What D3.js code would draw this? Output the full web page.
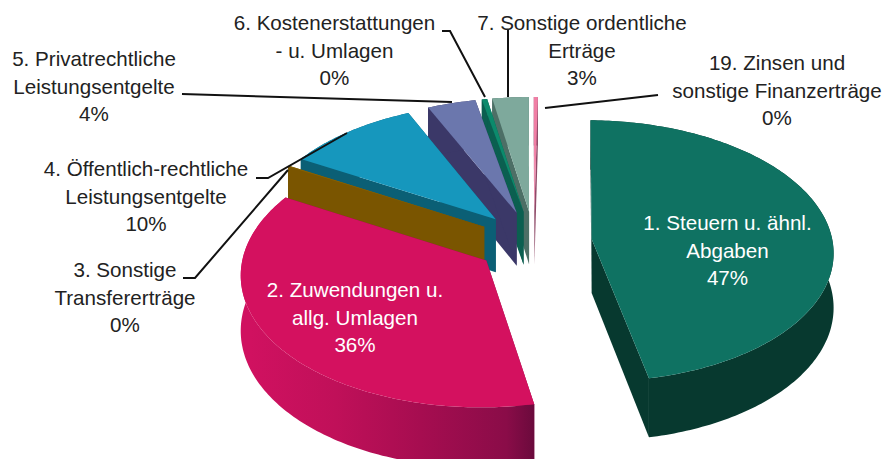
<!DOCTYPE html>
<html><head><meta charset="utf-8">
<script src="https://cdnjs.cloudflare.com/ajax/libs/d3/7.8.5/d3.min.js"></script>
<style>html,body{margin:0;padding:0;background:#fff}svg{display:block}text{font-family:"Liberation Sans",Arial,sans-serif}</style>
</head><body><div id="c"></div>
<script>
const categories=[
 ["1. Steuern u. ähnl.","Abgaben"],
 ["2. Zuwendungen u.","allg. Umlagen"],
 ["3. Sonstige","Transfererträge"],
 ["4. Öffentlich-rechtliche","Leistungsentgelte"],
 ["5. Privatrechtliche","Leistungsentgelte"],
 ["6. Kostenerstattungen","- u. Umlagen"],
 ["7. Sonstige ordentliche","Erträge"],
 ["19. Zinsen und","sonstige Finanzerträge"]];
const values=[46.6,36.4,0.1,9.9,3.6,0.4,2.7,0.3];
const percentLabels=["47%","36%","0%","10%","4%","0%","3%","0%"];
const topColors=["#0f7262","#d4115f","#8a6200","#1697bd","#6b77ad","#0c8a6c","#7ea99c","#f07fa5"];
const wallColors=["#07392f","#8c0f47","#7a5500","#0b5f75","#3b3868","#0b5f50","#4d6f66","#8f4a68"];
const labelPlace=[[727.5,223,"#fff"],[355,290,"#fff"],[125,270,"#222"],[146,169,"#222"],[94,59,"#222"],[334.5,23,"#222"],[582,23,"#222"],[777,63,"#222"]];
const leaders=[
 [[183,278],[195,278],[288,170]],
 [[256,178],[268,178],[347,133]],
 [[182,94],[452,102]],
 [[442,31],[450,31],[485,97]],
 [[508,30],[508,97]],
 [[545,108],[658,95]]];

const W=886,H=459,cx=534,cy=242,rx=241,ry=130,explode=58,depth=54,persp=0.09,vx=540,lineGap=27.4,rotation=0.014;
const svg=d3.select("#c").append("svg").attr("width",W).attr("height",H).attr("viewBox",[0,0,W,H]);
const pie=d3.pie().sort(null).value(d=>d).startAngle(rotation).endAngle(rotation+2*Math.PI);
const arcs=pie(values);

// plane → screen perspective projection; (u right, v far) in units of rx
function project(u,v,z){
  const s=1/(1+persp*v);
  return [vx+(cx-vx+u*rx)*s, cy-(v*ry)*s+z*s];
}
function slicePaths(a){
  const m=(a.startAngle+a.endAngle)/2, e=explode/rx;
  const ou=e*Math.sin(m), ov=e*Math.cos(m);
  const n=Math.max(2,Math.ceil((a.endAngle-a.startAngle)*60));
  const ts=d3.range(n+1).map(i=>a.startAngle+(a.endAngle-a.startAngle)*i/n);
  const rim=z=>ts.map(t=>project(ou+Math.sin(t),ov+Math.cos(t),z));
  const apex=z=>project(ou,ov,z);
  return {rimT:rim(0),rimB:rim(depth),apexT:apex(0),apexB:apex(depth)};
}
const line=d3.line();
const poly=p=>line(p)+"Z";
const defs=svg.append("defs");
const g2=defs.append("linearGradient").attr("id","wall2").attr("gradientUnits","userSpaceOnUse")
 .attr("x1",250).attr("x2",535).attr("y1",0).attr("y2",0);
[[0,"#d01160"],[.3,"#c01059"],[.6,"#a60d50"],[.9,"#8a0c48"],[1,"#6a0a3c"]].forEach(([o,c])=>g2.append("stop").attr("offset",o).attr("stop-color",c));

const order=[7,6,5,4,3,2,1,0];
const gp=svg.append("g");
order.forEach(i=>{
  const p=slicePaths(arcs[i]);
  const g=gp.append("g");
  const wall=i===1?"url(#wall2)":wallColors[i];
  const n=p.rimT.length-1;
  g.append("path").attr("d",poly([p.apexT,p.rimT[0],p.rimB[0],p.apexB])).attr("fill",wallColors[i]);
  g.append("path").attr("d",poly([p.apexT,p.rimT[n],p.rimB[n],p.apexB])).attr("fill",wallColors[i]);
  g.append("path").attr("d",poly([...p.rimT,...p.rimB.slice().reverse()])).attr("fill",wall);
  g.append("path").attr("d",poly([p.apexT,...p.rimT])).attr("fill",topColors[i]);
});
const gl=svg.append("g").attr("fill","none").attr("stroke","#111").attr("stroke-width",2);
leaders.forEach(l=>gl.append("path").attr("d",line(l)));

categories.forEach((c,i)=>{
  const [x,y,col]=labelPlace[i];
  const t=svg.append("text").attr("text-anchor","middle").attr("font-size",20.6).attr("fill",col);
  [...c,percentLabels[i]].forEach((s,j)=>t.append("tspan").attr("x",x).attr("y",y+lineGap*j).attr("dy","0.36em").text(s));
});
</script></body></html>
